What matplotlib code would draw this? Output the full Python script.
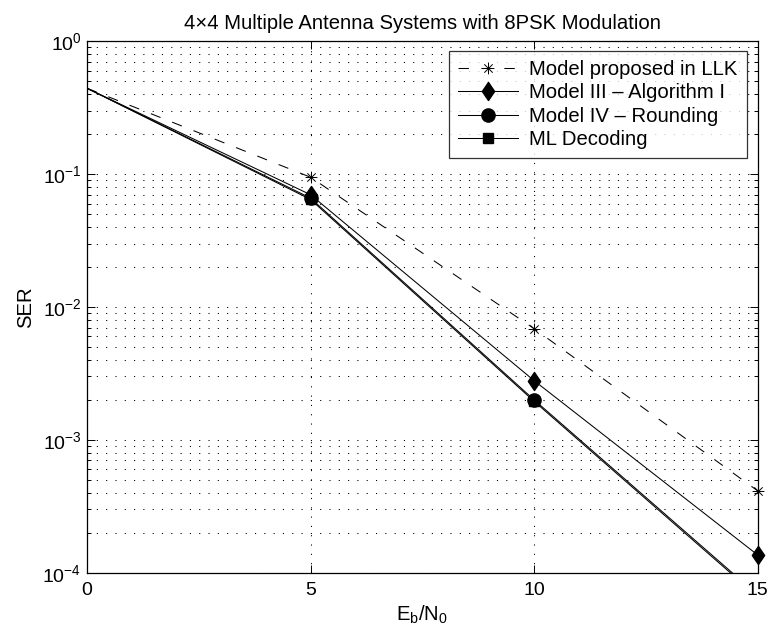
import numpy as np
import matplotlib
matplotlib.use("Agg")
import matplotlib.pyplot as plt
import matplotlib.path as mpath
from matplotlib.ticker import LogLocator, NullFormatter, FixedLocator

# ---- data ----
ebn0 = [0, 5, 10, 15]
ser_llk = [0.443, 0.0948, 6.87e-3, 4.13e-4]
ser_model3 = [0.443, 0.0700, 2.79e-3, 1.36e-4]
ser_model4 = [0.443, 0.0660, 2.00e-3, 6.8e-5]
ser_ml = [0.443, 0.0645, 1.95e-3, 6.6e-5]
labels = ["Model proposed in LLK", "Model III \u2013 Algorithm I",
          "Model IV \u2013 Rounding", "ML Decoding"]
xticks = [0, 5, 10, 15]
title = "4\u00d74 Multiple Antenna Systems with 8PSK Modulation"

plt.rcParams['font.family'] = ['Liberation Sans', 'DejaVu Sans']
plt.rcParams['mathtext.fontset'] = 'custom'
plt.rcParams['mathtext.rm'] = 'Liberation Sans'
plt.rcParams['mathtext.it'] = 'Liberation Sans:italic'
plt.rcParams['mathtext.default'] = 'regular'
plt.rcParams['lines.scale_dashes'] = False

FS = 14.6

# asterisk marker (plus + cross)
c = np.sqrt(0.5)
verts = [(-1, 0), (1, 0), (0, -1), (0, 1), (-c, -c), (c, c), (-c, c), (c, -c)]
codes = [mpath.Path.MOVETO, mpath.Path.LINETO] * 4
asterisk = mpath.Path(verts, codes)

# diamond marker, width/height ~ 0.68
diamond = mpath.Path([(0, 1), (0.68, 0), (0, -1), (-0.68, 0), (0, 1)],
                     [mpath.Path.MOVETO] + [mpath.Path.LINETO] * 3 + [mpath.Path.CLOSEPOLY])

fig = plt.figure(figsize=(7.69, 6.37), dpi=100)
ax = fig.add_axes([0.1131, 0.1009, 0.8722, 0.8343])

lw = 0.75
series = [
    (ser_llk, dict(dashes=(7.5, 9)), dict(marker=asterisk, ms=8.5, mew=0.7)),
    (ser_model3, dict(), dict(marker=diamond, ms=13)),
    (ser_model4, dict(), dict(marker='o', ms=9.5)),
    (ser_ml, dict(), dict(marker='s', ms=7)),
]
ylo, yhi = 1e-4, 1
for (vals, lstyle, mstyle), lab in zip(series, labels):
    ax.plot(ebn0, vals, color='k', lw=lw, label=lab, markevery=[1, 2],
            **lstyle, **mstyle)
    # edge markers (not clipped, as in the original)
    edge_idx = [i for i in (len(vals) - 1,) if ylo <= vals[i] <= yhi]
    if edge_idx:
        ax.plot(ebn0, vals, color='k', lw=0, linestyle='none', markevery=edge_idx,
                clip_on=False, zorder=3, **mstyle)

ax.set_yscale('log')
ax.set_xlim(0, 15)
ax.set_ylim(ylo, yhi)
ax.xaxis.set_major_locator(FixedLocator(xticks))
ax.yaxis.set_major_locator(LogLocator(base=10, numticks=10))
ax.yaxis.set_minor_locator(LogLocator(base=10, subs=np.arange(2, 10), numticks=20))
ax.yaxis.set_minor_formatter(NullFormatter())

gstyle = dict(color='k', linestyle=(0, (0.8, 5.9)), lw=0.75)
ax.grid(True, which='major', axis='both', **gstyle)
ax.grid(True, which='minor', axis='y', **gstyle)

ax.tick_params(which='both', direction='in', top=True, right=True, labelsize=14,
               color='k', width=0.7)
ax.tick_params(which='major', length=6, pad=4)
ax.tick_params(axis='x', which='major', pad=7)
ax.tick_params(which='minor', length=3)
for s in ax.spines.values():
    s.set_linewidth(0.9)

ax.set_xlabel('$E_b/N_0$', fontsize=FS, labelpad=3)
ax.set_ylabel('SER', fontsize=FS, labelpad=5)
ax.set_title(title, fontsize=FS, pad=9)

leg = ax.legend(loc='upper right', bbox_to_anchor=(0.984, 0.982), borderaxespad=0,
                fontsize=FS, frameon=True, fancybox=False, handlelength=2.95,
                labelspacing=0.22, borderpad=0.45, handletextpad=0.55)
leg.get_frame().set_edgecolor('k')
leg.get_frame().set_linewidth(0.9)

fig.savefig('out.png', dpi=100)
